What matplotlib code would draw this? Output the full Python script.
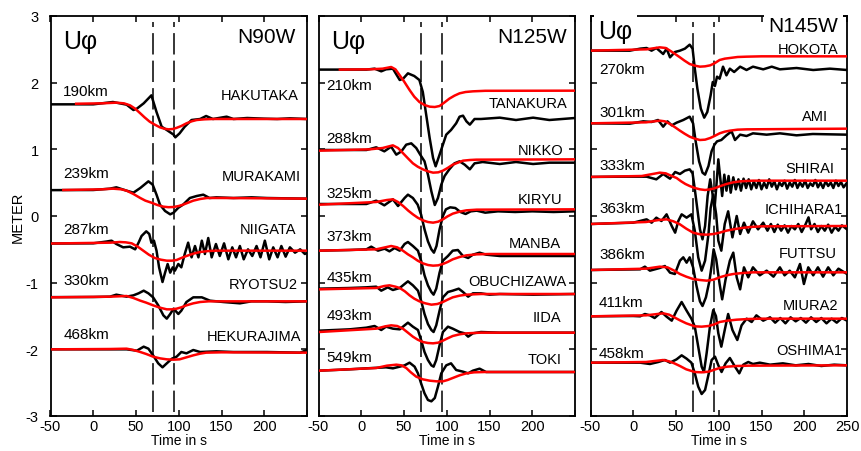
import matplotlib
matplotlib.use("Agg")
import matplotlib.pyplot as plt

plt.rcParams['font.family'] = ['Liberation Sans', 'DejaVu Sans']

# ---- data: (time s, displacement m) ----
window_t = [70, 94]          # dashed marks
xticks = [-50, 0, 50, 100, 150, 200, 250]
yticks = [-3, -2, -1, 0, 1, 2, 3]

# N90W
hakutaka_obs = [(-50, 1.675), (0, 1.675), (23, 1.71), (39, 1.67), (47, 1.59), (51, 1.61), (59, 1.69),
                (68, 1.81), (74, 1.56), (80, 1.34), (86, 1.29), (94, 1.22), (96, 1.18), (101, 1.24),
                (107, 1.34), (115, 1.44), (125, 1.455), (132, 1.50), (140, 1.455), (156, 1.49),
                (164, 1.455), (180, 1.47), (200, 1.46), (215, 1.455), (230, 1.465), (250, 1.455)]
hakutaka_syn = [(-20, 1.684), (10, 1.69), (27, 1.70), (36, 1.69), (43, 1.66), (49, 1.61), (55, 1.54),
                (60, 1.48), (66, 1.415), (72, 1.37), (78, 1.33), (83, 1.31), (88, 1.30), (93, 1.305),
                (97, 1.32), (103, 1.35), (109, 1.39), (115, 1.42), (121, 1.44), (130, 1.45), (140, 1.455),
                (250, 1.455)]
murakami_obs = [(-50, 0.388), (0, 0.39), (19.5, 0.41), (27, 0.43), (39, 0.38), (47, 0.35), (55, 0.42),
                (64.5, 0.52), (69.5, 0.47), (74, 0.32), (78, 0.17), (84, 0.075), (90, 0.025), (94, 0.05),
                (99.5, 0.124), (105, 0.17), (113, 0.27), (121, 0.30), (128.7, 0.32), (136, 0.27),
                (144, 0.28), (164, 0.27), (185, 0.28), (203, 0.27), (225, 0.265), (250, 0.26)]
murakami_syn = [(-35, 0.39), (10, 0.40), (23, 0.41), (33, 0.40), (39, 0.38), (47, 0.33), (55, 0.27),
                (61, 0.23), (68, 0.20), (75, 0.165), (82, 0.14), (88, 0.132), (94, 0.135), (100, 0.15),
                (105, 0.17), (111, 0.20), (117, 0.23), (125, 0.255), (133, 0.27), (150, 0.27), (250, 0.26)]
niigata_obs = [(-50, -0.413), (0, -0.41), (15.6, -0.383), (21.4, -0.37), (27, -0.42), (35, -0.47),
               (43, -0.46), (49, -0.50), (53, -0.40), (56.5, -0.30), (62, -0.23), (65.5, -0.27),
               (68, -0.40), (71, -0.37), (74, -0.52), (77, -0.77), (81, -0.99), (84, -0.85), (87, -0.72),
               (90, -0.85), (93, -0.77), (95.5, -0.82), (99.5, -0.72), (103, -0.77), (107, -0.57),
               (111, -0.40), (115, -0.62), (119, -0.45), (123, -0.62), (127, -0.37), (130.6, -0.57),
               (134.5, -0.33), (138.5, -0.62), (143.5, -0.42), (148, -0.60), (153, -0.41), (158, -0.65),
               (162.6, -0.47), (167, -0.62), (171.5, -0.45), (176, -0.65), (181, -0.50), (186, -0.60),
               (191, -0.45), (195.6, -0.62), (200.7, -0.37), (205.8, -0.65), (210.5, -0.47),
               (215.6, -0.62), (220, -0.45), (225, -0.61), (230, -0.47), (236, -0.55), (242, -0.50),
               (247.5, -0.57), (250, -0.55)]
niigata_syn = [(-50, -0.413), (20, -0.40), (31, -0.39), (38, -0.395), (45, -0.41), (52, -0.46),
               (58.5, -0.52), (65, -0.58), (72, -0.63), (79, -0.655), (86, -0.67), (92, -0.67),
               (97.5, -0.66), (103, -0.63), (109, -0.60), (117, -0.565), (125, -0.54), (135, -0.525),
               (144, -0.52), (250, -0.52)]
ryotsu2_obs = [(-50, -1.217), (0, -1.215), (19.5, -1.21), (27, -1.18), (39, -1.21), (47, -1.19),
               (53, -1.16), (59, -1.12), (64.5, -1.16), (70, -1.22), (76, -1.34), (82, -1.49),
               (86, -1.54), (90, -1.47), (94, -1.39), (99.5, -1.47), (103, -1.42), (109, -1.29),
               (117, -1.22), (127, -1.22), (136.5, -1.27), (152, -1.29), (171.5, -1.31), (185, -1.28),
               (203, -1.28), (225, -1.29), (250, -1.28)]
ryotsu2_syn = [(-48, -1.22), (20, -1.21), (39, -1.20), (47, -1.23), (55, -1.27), (62, -1.30),
               (70, -1.34), (78, -1.375), (86, -1.40), (92, -1.40), (97.5, -1.39), (103, -1.37),
               (109, -1.34), (117, -1.31), (125, -1.29), (135, -1.28), (250, -1.28)]
hekurajima_obs = [(-50, -2.0), (0, -2.0), (39, -2.0), (51, -2.02), (59, -1.96), (64.5, -1.99),
                  (70, -2.09), (76, -2.21), (81, -2.27), (86, -2.21), (92, -2.14), (97.5, -2.11),
                  (103, -2.04), (109, -2.06), (117, -2.01), (125, -2.04), (144, -2.03), (164, -2.04),
                  (203, -2.04), (242, -2.05), (250, -2.01)]
hekurajima_syn = [(-48, -2.0), (20, -1.995), (39, -1.99), (47, -2.01), (55, -2.04), (62, -2.07),
                  (70, -2.11), (78, -2.135), (86, -2.15), (94, -2.155), (101, -2.15), (109, -2.12),
                  (117, -2.09), (125, -2.065), (132, -2.05), (150, -2.045), (250, -2.05)]

# N125W
tanakura_obs = [(-50, 2.196), (6, 2.196), (15.6, 2.21), (23.4, 2.17), (29, 2.20), (37, 2.21), (45, 2.04),
                (49, 2.06), (54.6, 2.14), (62, 2.10), (68, 2.04), (72, 1.86), (76, 1.515), (80, 1.17),
                (84, 0.87), (87, 0.745), (91.6, 0.92), (95.5, 1.07), (99.4, 1.22), (105, 1.29),
                (111, 1.39), (115, 1.49), (119, 1.505), (123, 1.42), (127, 1.37), (132.5, 1.455),
                (140, 1.455), (162, 1.475), (181, 1.44), (201, 1.475), (220, 1.44), (250, 1.47)]
tanakura_syn = [(-25, 2.196), (10, 2.20), (25, 2.21), (35, 2.235), (40, 2.20), (45, 2.11), (50, 2.02),
                (56.5, 1.89), (62, 1.79), (68, 1.71), (74, 1.665), (80, 1.64), (86, 1.635), (91.6, 1.65),
                (97, 1.70), (103, 1.76), (109, 1.805), (115, 1.84), (122, 1.86), (130.6, 1.87),
                (145, 1.878), (250, 1.88)]
nikko_obs = [(-50, 0.99), (6, 0.99), (17.5, 1.03), (27, 0.97), (35, 1.04), (41, 0.92), (47, 0.97),
             (52.6, 1.07), (58.5, 1.09), (64.3, 1.02), (69, 0.92), (74, 0.82), (78, 0.62), (82, 0.37),
             (86, 0.165), (89.7, 0.27), (93.6, 0.47), (97.5, 0.60), (103, 0.70), (109, 0.79),
             (115, 0.82), (121, 0.77), (127, 0.70), (132.5, 0.79), (142, 0.81), (162, 0.78),
             (181, 0.81), (201, 0.78), (220, 0.80), (250, 0.80)]
nikko_syn = [(-49, 0.98), (10, 1.0), (25, 1.02), (37, 1.06), (43, 1.02), (49, 0.94), (55, 0.86),
             (60.4, 0.79), (66, 0.74), (72, 0.70), (78, 0.67), (84, 0.65), (90, 0.655), (95.5, 0.68),
             (101, 0.72), (107, 0.77), (113, 0.80), (119, 0.83), (127, 0.84), (134.5, 0.845), (250, 0.85)]
kiryu_obs = [(-50, 0.18), (6, 0.18), (17.5, 0.23), (27, 0.16), (37, 0.25), (43, 0.15), (50.7, 0.27),
             (54.6, 0.32), (60.4, 0.27), (66, 0.17), (70, 0.02), (74, -0.2), (78, -0.38), (82, -0.5),
             (85, -0.55), (88, -0.45), (91.6, -0.2), (95.5, 0.0), (99, 0.1), (104, 0.13), (110, 0.12),
             (116, 0.06), (122, 0.03), (128, 0.07), (135, 0.08), (145, 0.05), (160, 0.07), (180, 0.06),
             (200, 0.07), (225, 0.06), (250, 0.07)]
kiryu_syn = [(-49, 0.17), (17.5, 0.21), (30, 0.24), (37, 0.25), (43, 0.21), (49, 0.15), (55, 0.08),
             (60.4, 0.025), (66, -0.025), (72, -0.065), (78, -0.09), (84, -0.1), (90, -0.085),
             (95.5, -0.05), (101, -0.005), (107, 0.035), (115, 0.065), (123, 0.085), (135, 0.095),
             (250, 0.1)]
manba_obs = [(-49, -0.52), (-13.6, -0.51), (6, -0.50), (11.7, -0.46), (19.5, -0.52), (27.3, -0.49),
             (33, -0.53), (39, -0.48), (45, -0.52), (50.7, -0.42), (54.6, -0.39), (60.4, -0.45),
             (66.3, -0.52), (70, -0.67), (74, -0.89), (78, -1.04), (82, -1.14), (84.6, -1.18),
             (87.7, -1.09), (91.6, -0.85), (95.5, -0.67), (101.4, -0.60), (107, -0.52), (113, -0.51),
             (119, -0.60), (125, -0.63), (130.6, -0.58), (138.4, -0.55), (146, -0.58), (162, -0.6),
             (181, -0.6), (201, -0.6), (250, -0.6)]
manba_syn = [(-49, -0.52), (17.5, -0.50), (28, -0.47), (35, -0.45), (42, -0.47), (48.7, -0.52),
             (54.6, -0.575), (60.4, -0.62), (66, -0.67), (72, -0.71), (78, -0.735), (84, -0.745),
             (90, -0.74), (95.5, -0.72), (101, -0.69), (107, -0.65), (115, -0.615), (123, -0.59),
             (135, -0.575), (150, -0.57), (250, -0.57)]
obuchizawa_obs = [(-49, -1.09), (-13.6, -1.08), (6, -1.07), (17.5, -1.06), (23.4, -1.12), (31, -1.07),
                  (37, -1.11), (45, -1.08), (50.7, -1.02), (54.6, -0.98), (60.4, -1.04), (66.3, -1.12),
                  (70, -1.27), (74, -1.47), (78, -1.62), (82, -1.71), (84.6, -1.74), (87.7, -1.64),
                  (91.6, -1.42), (95.5, -1.22), (101.4, -1.14), (107, -1.12), (114, -1.09), (119, -1.14),
                  (125, -1.21), (130.6, -1.16), (140, -1.16), (150, -1.18), (162, -1.17), (201, -1.18),
                  (250, -1.17)]
obuchizawa_syn = [(-49, -1.10), (17.5, -1.08), (27, -1.05), (33, -1.04), (40, -1.06), (45, -1.08),
                  (51, -1.13), (56.5, -1.19), (62, -1.24), (68, -1.28), (75, -1.31), (82, -1.33),
                  (89, -1.32), (95.5, -1.29), (101, -1.255), (107, -1.22), (115, -1.195), (123, -1.18),
                  (140, -1.17), (250, -1.17)]
iida_obs = [(-49, -1.72), (-13.6, -1.70), (6, -1.675), (15.6, -1.65), (23.4, -1.71), (29, -1.66),
            (37, -1.69), (45, -1.70), (50.7, -1.64), (54.6, -1.60), (60.4, -1.66), (66.3, -1.71),
            (70, -1.86), (74, -2.04), (78, -2.16), (82, -2.24), (84.6, -2.26), (87.7, -2.16),
            (91.6, -1.94), (95.5, -1.74), (101.4, -1.66), (107, -1.69), (115, -1.74), (121, -1.76),
            (125, -1.81), (130.6, -1.76), (140, -1.74), (162, -1.75), (201, -1.75), (250, -1.75)]
iida_syn = [(-49, -1.74), (17.5, -1.69), (28, -1.655), (35, -1.64), (42, -1.65), (48.7, -1.69),
            (54.6, -1.75), (60.4, -1.81), (66, -1.855), (72, -1.89), (78, -1.905), (84, -1.91),
            (90, -1.90), (95.5, -1.87), (101, -1.835), (107, -1.80), (115, -1.775), (123, -1.76),
            (140, -1.75), (250, -1.75)]
toki_obs = [(-49, -2.32), (-13.6, -2.30), (6, -2.285), (29, -2.27), (37, -2.285), (45, -2.26),
            (50.7, -2.24), (56.5, -2.20), (62.4, -2.26), (66.3, -2.36), (70, -2.51), (74, -2.66),
            (78, -2.76), (82, -2.78), (86, -2.73), (89.7, -2.56), (93.6, -2.36), (99.4, -2.24),
            (105, -2.21), (111, -2.31), (119, -2.335), (125, -2.36), (130.6, -2.32), (138.4, -2.29),
            (146, -2.34), (162, -2.34), (201, -2.34), (250, -2.34)]
toki_syn = [(-49, -2.32), (17.5, -2.28), (30, -2.245), (41, -2.23), (47, -2.24), (52.6, -2.28),
            (58, -2.345), (64.3, -2.41), (72, -2.45), (80, -2.47), (88, -2.48), (95.5, -2.48),
            (101, -2.46), (107, -2.43), (115, -2.39), (123, -2.36), (132, -2.345), (145, -2.34),
            (250, -2.34)]

# N145W
hokota_obs = [(-50, 2.48), (-4, 2.48), (8, 2.51), (15.6, 2.52), (21.4, 2.48), (27, 2.52), (35, 2.43),
              (39, 2.51), (43, 2.38), (48.8, 2.46), (54.6, 2.48), (60.4, 2.51), (66, 2.57), (69.4, 2.51),
              (72, 2.21), (75, 1.91), (79, 1.61), (83, 1.475), (86.6, 1.56), (90.5, 1.81), (93, 2.01),
              (95.5, 1.95), (98, 2.09), (101, 2.06), (105, 2.24), (109, 2.11), (113, 2.21), (118, 2.16),
              (125, 2.24), (132.5, 2.19), (140, 2.24), (152, 2.20), (162, 2.24), (171.5, 2.20),
              (191, 2.22), (210.5, 2.19), (230, 2.21), (250, 2.19)]
hokota_syn = [(-50, 2.48), (15.6, 2.50), (31, 2.53), (38, 2.52), (43, 2.48), (49, 2.43), (54.6, 2.38),
              (60, 2.33), (66, 2.28), (72, 2.255), (78, 2.24), (84, 2.245), (90, 2.26), (95, 2.29),
              (101, 2.34), (107, 2.36), (113, 2.37), (122, 2.385), (132.5, 2.39), (150, 2.395),
              (250, 2.395)]
ami_obs = [(-50, 1.39), (-4, 1.385), (11.7, 1.42), (21.4, 1.41), (29, 1.44), (35, 1.34), (40, 1.42),
           (45, 1.36), (50.7, 1.40), (58.5, 1.44), (66, 1.49), (70, 1.39), (73, 1.12), (77, 0.82),
           (81, 0.65), (84, 0.62), (88, 0.75), (91.6, 0.97), (95, 1.07), (98, 1.12), (103, 1.14),
           (109, 1.21), (115, 1.27), (119, 1.14), (125, 1.22), (132.5, 1.20), (140, 1.24), (156, 1.22),
           (171.5, 1.24), (191, 1.21), (210, 1.23), (250, 1.22)]
ami_syn = [(-50, 1.39), (15, 1.405), (31, 1.43), (37, 1.42), (43, 1.38), (49, 1.33), (54.6, 1.28),
           (60, 1.235), (66, 1.19), (72, 1.16), (78, 1.14), (84, 1.145), (90, 1.17), (95, 1.20),
           (101, 1.24), (107, 1.265), (113, 1.28), (122, 1.295), (133, 1.30), (250, 1.31)]
shirai_obs = [(-50, 0.586), (-10, 0.59), (15.6, 0.59), (27, 0.55), (35, 0.63), (43, 0.56), (49, 0.66),
              (54.6, 0.63), (60.4, 0.68), (66, 0.70), (69.4, 0.64), (72, 0.40), (75, 0.10), (78, -0.20),
              (81, -0.35), (84, -0.15), (87, 0.30), (90, 0.55), (92.5, 0.35), (95, 0.10), (97.5, 0.50),
              (99.5, 0.85), (101.5, 0.60), (104, 0.30), (106.5, 0.62), (109, 0.38), (111.5, 0.60),
              (114, 0.35), (117, 0.58), (120, 0.40), (123, 0.55), (126, 0.38), (129, 0.56), (132, 0.42),
              (135, 0.55), (138, 0.40), (141, 0.52), (144, 0.42), (147, 0.54), (150, 0.40), (153, 0.50),
              (156, 0.42), (159, 0.55), (162, 0.44), (165, 0.52), (168, 0.40), (171, 0.50), (174, 0.45),
              (177, 0.53), (180, 0.41), (183, 0.50), (186, 0.44), (189, 0.54), (192, 0.42), (195, 0.50),
              (198, 0.44), (201, 0.53), (204, 0.42), (207, 0.49), (210, 0.45), (213, 0.54), (216, 0.43),
              (219, 0.50), (222, 0.42), (225, 0.52), (228, 0.45), (231, 0.50), (234, 0.42), (237, 0.53),
              (240, 0.45), (243, 0.51), (246, 0.43), (250, 0.50)]
shirai_syn = [(-50, 0.586), (10, 0.60), (31, 0.65), (38, 0.64), (45, 0.60), (50.7, 0.57), (56, 0.52),
              (61, 0.48), (66, 0.45), (72, 0.42), (78, 0.40), (84, 0.39), (90, 0.40), (95, 0.415),
              (101, 0.445), (109, 0.48), (117, 0.505), (125, 0.52), (140, 0.53), (250, 0.53)]
ichihara1_obs = [(-50, -0.12), (0, -0.10), (15.6, -0.05), (21.5, -0.10), (27, -0.025), (33, -0.075),
                 (39, 0.025), (45, -0.15), (49, -0.25), (52.7, -0.075), (56.6, 0.025), (62.4, -0.025),
                 (68, 0.025), (72, -0.22), (76, -0.62), (80, -0.82), (84, -0.67), (88, -0.27),
                 (90.5, 0.12), (93.6, 0.32), (97, 0.02), (99.5, -0.37), (103, -0.52), (107, -0.12),
                 (111, 0.07), (116, -0.32), (121, 0.0), (125, -0.27), (129.5, -0.10), (134.5, -0.25),
                 (140, -0.08), (146, -0.20), (152, -0.10), (157, -0.22), (161, -0.12), (165, -0.24),
                 (169, -0.13), (173, -0.22), (177, -0.14), (181, -0.25), (185, -0.15), (189, -0.20),
                 (193, -0.12), (197, -0.24), (201, -0.14), (205, -0.02), (208, -0.20), (212, -0.12),
                 (216, -0.24), (220, -0.15), (224, -0.22), (228, -0.13), (232, -0.25), (236, -0.16),
                 (240, -0.22), (244, -0.14), (250, -0.20)]
ichihara1_syn = [(-50, -0.12), (15, -0.09), (30, -0.06), (39, -0.05), (47, -0.08), (54.6, -0.125),
                 (62, -0.19), (70, -0.25), (78, -0.275), (86, -0.28), (94, -0.27), (101, -0.25),
                 (109, -0.22), (117, -0.20), (127, -0.18), (136.5, -0.165), (150, -0.155), (250, -0.15)]
futtsu_obs = [(-50, -0.81), (8, -0.80), (13.6, -0.76), (19.5, -0.82), (31, -0.78), (37, -0.75),
              (43, -0.85), (48.7, -0.87), (54.6, -0.67), (58.5, -0.62), (62.4, -0.70), (66, -0.62),
              (70, -0.77), (74, -1.05), (78, -1.28), (81, -1.35), (85, -1.22), (89, -0.98), (91.6, -0.75),
              (94, -0.50), (97, -0.65), (101, -1.02), (104, -1.25), (108, -0.95), (113, -0.67),
              (117, -0.55), (121, -0.92), (125, -1.10), (129.5, -0.77), (134.5, -0.92), (140, -0.77),
              (148, -0.89), (156, -0.82), (164, -0.91), (171.5, -0.77), (177, -0.89), (183, -0.82),
              (189, -0.92), (195, -0.72), (199.6, -1.02), (204.7, -0.77), (210.5, -0.89), (216, -0.77),
              (222, -0.91), (228, -0.77), (234, -0.89), (240, -0.79), (250, -0.87)]
futtsu_syn = [(-50, -0.81), (15, -0.79), (31, -0.76), (40, -0.77), (48, -0.82), (54.6, -0.87),
              (62, -0.91), (70, -0.945), (78, -0.96), (86, -0.97), (94, -0.955), (101, -0.92),
              (109, -0.89), (117, -0.87), (128, -0.855), (140, -0.845), (250, -0.845)]
miura2_obs = [(-50, -1.505), (0, -1.50), (8, -1.505), (13.6, -1.47), (19.5, -1.49), (25, -1.53),
              (33, -1.44), (39, -1.51), (45, -1.57), (50.7, -1.42), (56.6, -1.29), (62.4, -1.42),
              (68, -1.54), (72, -1.66), (76, -1.96), (80, -2.26), (82.7, -2.34), (85.8, -2.06),
              (89.7, -1.66), (93.6, -1.41), (96.7, -1.50), (99.5, -1.76), (103, -1.96), (107, -1.71),
              (111, -1.47), (116, -1.71), (121.7, -1.86), (126.7, -1.64), (132.6, -1.54), (138.5, -1.59),
              (144, -1.49), (152, -1.57), (160, -1.52), (166, -1.60), (172, -1.53), (178, -1.61),
              (184, -1.52), (190, -1.58), (196, -1.53), (202, -1.60), (208, -1.52), (214, -1.59),
              (220, -1.53), (226, -1.61), (232, -1.54), (238, -1.60), (244, -1.53), (250, -1.57)]
miura2_syn = [(-50, -1.505), (15, -1.49), (35, -1.46), (42, -1.48), (48, -1.52), (54.6, -1.565),
              (62, -1.61), (72, -1.655), (80, -1.66), (88, -1.65), (95, -1.625), (101, -1.59),
              (110, -1.57), (121, -1.555), (135, -1.545), (150, -1.54), (250, -1.54)]
oshima1_obs = [(-50, -2.20), (8, -2.20), (19.5, -2.22), (29.3, -2.19), (37, -2.16), (43, -2.20),
               (50.7, -2.15), (56.6, -2.09), (62.4, -2.14), (68, -2.20), (72, -2.36), (76, -2.56),
               (80, -2.67), (84, -2.61), (88, -2.38), (91.7, -2.16), (95.6, -2.11), (99.5, -2.24),
               (103.3, -2.34), (108, -2.21), (113, -2.13), (119, -2.26), (124, -2.36), (128.7, -2.23),
               (134.5, -2.19), (140, -2.22), (148, -2.20), (160, -2.23), (175, -2.21), (190, -2.24),
               (205, -2.22), (220, -2.25), (235, -2.23), (250, -2.24)]
oshima1_syn = [(-50, -2.20), (15, -2.19), (35, -2.16), (42, -2.18), (48, -2.21), (54.6, -2.25),
               (62, -2.30), (72, -2.34), (80, -2.345), (88, -2.335), (95, -2.305), (101, -2.28),
               (110, -2.26), (121, -2.25), (135, -2.245), (250, -2.24)]

panel_titles = ["N90W", "N125W", "N145W"]
stations_1 = ["HAKUTAKA", "MURAKAMI", "NIIGATA", "RYOTSU2", "HEKURAJIMA"]
dist_1 = ["190km", "239km", "287km", "330km", "468km"]
stations_2 = ["TANAKURA", "NIKKO", "KIRYU", "MANBA", "OBUCHIZAWA", "IIDA", "TOKI"]
dist_2 = ["210km", "288km", "325km", "373km", "435km", "493km", "549km"]
stations_3 = ["HOKOTA", "AMI", "SHIRAI", "ICHIHARA1", "FUTTSU", "MIURA2", "OSHIMA1"]
dist_3 = ["270km", "301km", "333km", "363km", "386km", "411km", "458km"]

obs_1 = [hakutaka_obs, murakami_obs, niigata_obs, ryotsu2_obs, hekurajima_obs]
syn_1 = [hakutaka_syn, murakami_syn, niigata_syn, ryotsu2_syn, hekurajima_syn]
obs_2 = [tanakura_obs, nikko_obs, kiryu_obs, manba_obs, obuchizawa_obs, iida_obs, toki_obs]
syn_2 = [tanakura_syn, nikko_syn, kiryu_syn, manba_syn, obuchizawa_syn, iida_syn, toki_syn]
obs_3 = [hokota_obs, ami_obs, shirai_obs, ichihara1_obs, futtsu_obs, miura2_obs, oshima1_obs]
syn_3 = [hokota_syn, ami_syn, shirai_syn, ichihara1_syn, futtsu_syn, miura2_syn, oshima1_syn]

# ---- layout: label anchors (time, metre) ----
name_xy_1 = [(240, 1.82), (243, 0.60), (238, -0.20), (239, -1.02), (243, -1.80)]
dist_xy_1 = [(-35, 1.88), (-35, 0.64), (-35, -0.20), (-35, -0.96), (-35, -1.77)]
name_xy_2 = [(241, 1.69), (236, 0.99), (235, 0.25), (234, -0.40), (240, -0.98), (234, -1.52), (234, -2.14)]
dist_xy_2 = [(-41, 1.96), (-41, 1.17), (-41, 0.35), (-41, -0.30), (-41, -0.92), (-41, -1.48), (-41, -2.12)]
name_xy_3 = [(240, 2.51), (228, 1.50), (235, 0.72), (245, 0.11), (238, -0.56), (240, -1.34), (244, -2.01)]
dist_xy_3 = [(-40, 2.21), (-40, 1.56), (-40, 0.77), (-40, 0.12), (-40, -0.57), (-40, -1.29), (-40, -2.05)]
title_xy = [((-35, 2.63), (237, 2.69)), ((-35, 2.63), (241, 2.69)), ((-41, 2.78), (240, 2.86))]

fig = plt.figure(figsize=(8.61, 4.52), dpi=100)
W, H = 861.0, 452.0
lefts = [50.5, 318.5, 590.5]
axes = [fig.add_axes([l / W, (H - 417) / H, 256.5 / W, 400 / H]) for l in lefts]

panels = [
    (stations_1, dist_1, obs_1, syn_1, name_xy_1, dist_xy_1),
    (stations_2, dist_2, obs_2, syn_2, name_xy_2, dist_xy_2),
    (stations_3, dist_3, obs_3, syn_3, name_xy_3, dist_xy_3),
]

for k, (ax, (names, dists, obs, syn, nxy, dxy)) in enumerate(zip(axes, panels)):
    for tw in window_t:
        ax.axvline(tw, ymin=0.01, ymax=0.985, color="black", lw=1.1, dashes=(14, 4), zorder=1)
    for o, s in zip(obs, syn):
        t, u = zip(*o)
        ax.plot(t, u, color="black", lw=1.8, zorder=2, solid_joinstyle="round")
        t, u = zip(*s)
        ax.plot(t, u, color="#ff0000", lw=1.8, zorder=3)
    for name, d, (xn, yn), (xd, yd) in zip(names, dists, nxy, dxy):
        ax.text(xn, yn, name, ha="right", va="center", fontsize=10.5, zorder=4)
        ax.text(xd, yd, d, ha="left", va="center", fontsize=11, zorder=4)

    (ux, uy), (tx, ty) = title_xy[k]
    box = dict(facecolor="white", edgecolor="none", pad=3) if k == 2 else None
    ax.text(ux, uy, "U\u03c6", ha="left", va="center", fontsize=18, bbox=box, zorder=5)
    ax.text(tx, ty, panel_titles[k], ha="right", va="center", fontsize=15, bbox=box, zorder=5)

    ax.set_xlim(-50, 250)
    ax.set_ylim(-3, 3)
    labels = [str(v) for v in xticks]
    if k < 2:
        labels[-1] = ""
    ax.set_xticks(xticks, labels)
    ax.set_yticks(yticks)
    if k == 0:
        ax.set_yticklabels([str(v) for v in yticks])
        ax.set_ylabel("METER", fontsize=10.5, labelpad=1)
    else:
        ax.set_yticklabels([])
    ax.tick_params(direction="in", top=True, right=True, length=4, width=1.1, labelsize=10.5, pad=2.5)
    ax.tick_params(axis="y", pad=8.5)
    ax.set_xlabel("Time in s", fontsize=10, labelpad=0)
    for sp in ax.spines.values():
        sp.set_linewidth(1.3)

fig.savefig("out.png", dpi=100)
